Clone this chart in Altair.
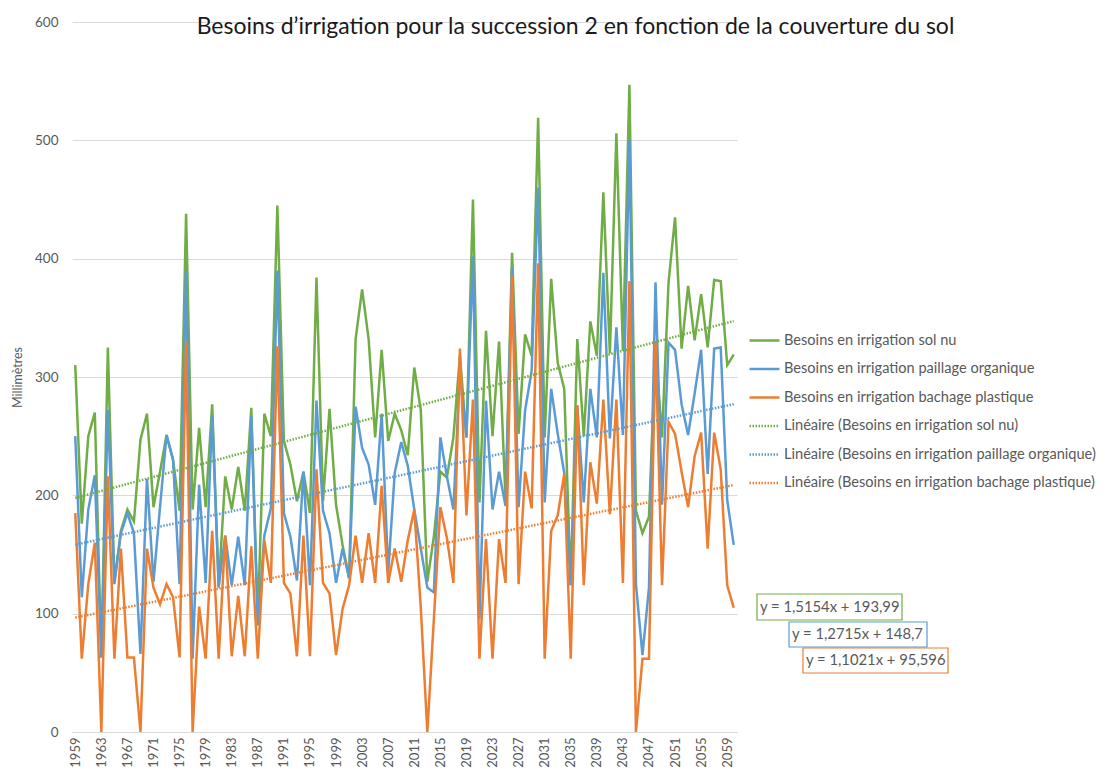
import altair as alt
import pandas as pd

years = list(range(1959, 2061))

sol_nu = [310, 176, 250, 270, 63, 325, 127, 170, 188, 178,
          247, 269, 190, 220, 251, 230, 187, 438, 188, 257,
          190, 277, 122, 216, 188, 224, 187, 274, 95, 269,
          250, 445, 246, 226, 195, 220, 185, 384, 195, 273,
          192, 158, 130, 332, 374, 332, 249, 323, 246, 269,
          255, 234, 308, 272, 127, 165, 220, 215, 249, 318,
          249, 450, 194, 339, 250, 330, 196, 405, 252, 336,
          318, 519, 249, 383, 312, 290, 124, 332, 250, 347,
          318, 456, 320, 506, 322, 547, 187, 168, 182, 324,
          249, 380, 435, 324, 377, 331, 370, 325, 382, 381,
          310, 319]

paillage = [250, 114, 188, 217, 63, 272, 125, 168, 185, 168,
            66, 214, 127, 190, 251, 230, 125, 390, 62, 209,
            126, 268, 123, 166, 124, 165, 124, 267, 90, 166,
            189, 390, 185, 165, 128, 220, 124, 280, 187, 168,
            126, 155, 130, 275, 240, 226, 192, 269, 135, 219,
            245, 225, 188, 155, 122, 118, 249, 216, 188, 305,
            249, 402, 95, 280, 188, 220, 191, 393, 190, 272,
            305, 460, 194, 290, 252, 219, 124, 276, 194, 290,
            249, 388, 248, 342, 251, 500, 125, 65, 122, 380,
            192, 329, 323, 277, 251, 286, 323, 218, 324, 325,
            196, 158]

bachage = [185, 62, 125, 160, 0, 216, 62, 155, 63, 63,
           0, 155, 122, 108, 125, 114, 63, 330, 0, 106,
           62, 170, 62, 166, 64, 115, 64, 157, 62, 162,
           126, 326, 126, 117, 64, 166, 64, 222, 126, 117,
           65, 104, 124, 166, 126, 168, 126, 208, 126, 155,
           127, 162, 188, 105, 0, 95, 190, 164, 126, 324,
           183, 281, 62, 163, 62, 163, 126, 386, 125, 220,
           189, 396, 62, 170, 183, 218, 62, 276, 124, 228,
           193, 281, 184, 281, 126, 381, 0, 62, 62, 330,
           124, 262, 252, 220, 190, 233, 253, 155, 253, 222,
           124, 105]

series_names = ["Besoins en irrigation sol nu",
                "Besoins en irrigation paillage organique",
                "Besoins en irrigation bachage plastique"]
series_values = [sol_nu, paillage, bachage]
trend_names = ["Linéaire (" + s + ")" for s in series_names]
equations = ["y = 1,5154x + 193,99", "y = 1,2715x + 148,7", "y = 1,1021x + 95,596"]
colors = ["#70AD47", "#5B9BD5", "#ED7D31"]
y_ticks = [0, 100, 200, 300, 400, 500, 600]
x_ticks = years[::4]

rows = []
for name, vals in zip(series_names, series_values):
    for yr, v in zip(years, vals):
        rows.append({"annee": yr, "val": v, "serie": name})
df = pd.DataFrame(rows)

domain = series_names + trend_names
color_scale = alt.Scale(domain=domain, range=colors + colors)
dash_scale = alt.Scale(domain=domain, range=[[1, 0]] * 3 + [[1.5, 1.5]] * 3)
width_scale = alt.Scale(domain=domain, range=[2.5] * 3 + [1.2] * 3)

legend = alt.Legend(title=None, orient="none", legendX=676, legendY=302,
                    labelFont="Lato", labelFontSize=14.6, labelColor="#595959",
                    labelLimit=500, symbolType="stroke", symbolSize=900,
                    rowPadding=4.5, labelOffset=3)

x_enc = alt.X("annee:Q", scale=alt.Scale(domain=[1958.5, 2060.5], nice=False, zero=False),
              axis=alt.Axis(values=x_ticks, format="d", labelAngle=270, grid=False,
                            ticks=False, labelPadding=5, labelFontSize=13, title=None,
                            domain=True))
y_enc = alt.Y("val:Q", scale=alt.Scale(domain=[0, 600], nice=False),
              axis=alt.Axis(values=y_ticks, title="Millimètres", domain=False, ticks=False,
                            labelPadding=14, labelFontSize=13.5, titleFontSize=12.5,
                            titleFontWeight="normal", titlePadding=10))

def enc(ch):
    return ch.encode(
        x=x_enc, y=y_enc,
        color=alt.Color("serie:N", scale=color_scale, legend=legend),
        strokeDash=alt.StrokeDash("serie:N", scale=dash_scale, legend=legend),
        strokeWidth=alt.StrokeWidth("serie:N", scale=width_scale, legend=legend),
    )

base = alt.Chart(df)
layers = []
for name in series_names:
    layers.append(enc(base.transform_filter(alt.datum.serie == name).mark_line()))

trend = enc(
    base.transform_regression("annee", "val", groupby=["serie"])
    .transform_calculate(serie="'Linéaire (' + datum.serie + ')'")
    .mark_line()
)
layers.append(trend)

box_pos = [(685, 830, 572, 598), (717, 855, 600, 625), (731, 876, 626, 651)]
for eq, col, (x0, x1, y0, y1) in zip(equations, colors, box_pos):
    d = pd.DataFrame({"eq": [eq]})
    layers.append(alt.Chart(d).mark_rect(fill="white", stroke=col, strokeWidth=1.2).encode(
        x=alt.value(x0), x2=alt.value(x1), y=alt.value(y0), y2=alt.value(y1)))
    layers.append(alt.Chart(d).mark_text(align="left", baseline="middle", font="Lato",
                                         fontSize=14.8, color="#595959").encode(
        x=alt.value(x0 + 3), y=alt.value((y0 + y1) / 2 + 0.5), text="eq:N"))

chart = alt.layer(*layers).properties(
    width=665, height=710,
    title=alt.Title("Besoins d’irrigation pour la succession 2 en fonction de la couverture du sol",
                    font="Lato", fontSize=23, fontWeight="normal", color="#1a1a1a",
                    anchor="middle", dx=171, dy=24, offset=0),
    autosize=alt.AutoSizeParams(type="none"),
    padding={"left": 64, "top": 14, "right": 362, "bottom": 38},
).configure_view(stroke=None).configure_axis(
    labelFont="Lato", titleFont="Lato", labelColor="#595959", titleColor="#595959",
    gridColor="#d9d9d9", domainColor="#d9d9d9"
)

chart.save("out.html", embed_options={"renderer": "svg", "actions": False})
